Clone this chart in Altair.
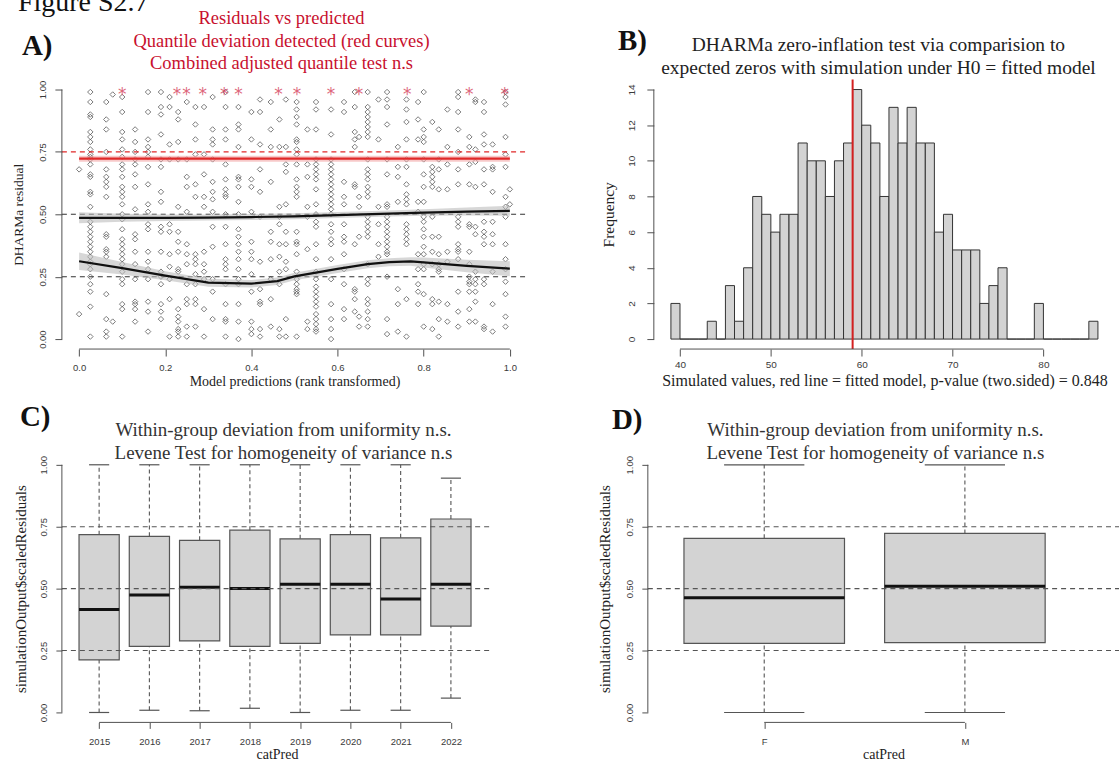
import altair as alt
import pandas as pd

SERIF = "Liberation Serif"
SANS = "Liberation Sans"
AXC = "#505050"
LBL = "#3a3a3a"

# ---------------- Panel A : residuals vs predicted ----------------
a_cols = [0.0, 0.026, 0.063, 0.078, 0.10, 0.13, 0.16, 0.19, 0.21, 0.23, 0.25, 0.27, 0.29, 0.31,
          0.34, 0.37, 0.40, 0.42, 0.445, 0.465, 0.48, 0.505, 0.53, 0.55, 0.585, 0.615, 0.64,
          0.65, 0.67, 0.695, 0.715, 0.74, 0.76, 0.787, 0.80, 0.82, 0.835, 0.855, 0.88, 0.906,
          0.92, 0.94, 0.96, 0.99, 1.0]
a_res = [
    "68 10",
    "99 95 90 89 83 81 79 76 74 73 72 70 66 65 59 58 53 47 45 43 41 39 37 35 33 31 30 28 25 22 19 13 01",
    "95 88 84 75 68 65 63 61 57 42 41 36 35 33 18 08 03 01",
    "98 07",
    "97 91 83 80 76 73 70 68 65 61 59 57 54 50 48 44 40 38 36 34 32 30 27 24 22 14 12 01",
    "84 79 75 72 70 66 61 52 42 40 35 30 24 15 14 12 07",
    "99 91 80 77 75 73 69 62 54 51 46 44 35 31 28 24 15 11 03",
    "99 93 90 82 72 69 59 55 45 43 35 27 25 22 14 11 08",
    "97 93 78 72 46 43 34 29 24 16 01",
    "91 88 79 72 53 43 39 35 28 27 12 09 07 04 03 01",
    "95 72 65 61 51 38 34 30 22 16 14 05 01",
    "93 86 80 74 62 57 34 32 30 26 22 16 14 05",
    "93 74 66 57 53 35 30 27 24 12 01",
    "97 84 80 78 72 63 59 56 51 45 37 24 19 08",
    "99 93 84 80 70 64 60 58 57 50 45 38 32 30 28 22 14 08 07 01",
    "93 86 84 77 65 64 61 55 50 44 41 38 35 32 28 24 22 14 07 00",
    "91 80 64 61 51 39 35 32 26 19 07 04 02",
    "96 91 78 68 59 49 31 20 15 14 04 01",
    "95 84 77 63 43 39 32 24 16 05",
    "88 77 53 49 46 38 33 27 22 04 01",
    "96 77 70 67 54 43 38 31 28 08 01",
    "95 92 89 86 80 79 76 74 70 64 61 59 57 43 39 38 34 27 24 22 20 19 18 01",
    "84 70 65 53 49 36 07 04",
    "95 92 84 72 70 68 66 64 60 54 50 47 45 38 32 27 24 21 19 17 15 13 10 08 06 04 03",
    "92 82 72 70 68 66 64 62 60 58 56 54 52 50 46 43 40 38 32 24 14 08 04 00",
    "95 91 63 57 54 46 41 39 34 28 22 12 08",
    "99 93 83 80 77 62 61 38 20 19 16 11",
    "81 57 53 41 09 05",
    "99 93 91 89 87 85 83 81 72 68 66 64 61 59 57 49 47 45 43 41 30 24 22 16 14 11 08 05",
    "96 80 53 46 38 33",
    "99 96 93 86 72 66 54 53 49 47 45 43 41 39 37 35 34 25 08 02",
    "77 69 65 55 20 14 03",
    "96 92 87 80 72 69 62 58 56 54 46 44 42 40 38 16 01",
    "95 88 80 55 51 34 28 22 19 14",
    "99 84 81 79 72 66 61 55 49 47 44 41 37 34 30 28 18 05",
    "87 69 67 65 63 61 49 41 35 30 16 14 04",
    "84 72 68 60 41 34 30 28 27 15 08 01",
    "92 77 70 60 35 31 14 07",
    "99 97 91 84 75 68 62 49 47 45 38 36 35 32 19 11 05",
    "81 77 70 62 46 45 35 30 25 23 22 19 12 07",
    "96 95 76 71 61 45 42 27 24 22 19 15 07",
    "95 91 82 78 68 62 47 43 41 38 24 22 05 04",
    "78 69 68 59 47 42 38 27 14 03",
    "99 97 94 81 74 69 57 53 49 38 32 28 23 18 09 05",
    "60 54",
]
a_star_x = [0.10, 0.227, 0.249, 0.287, 0.337, 0.37, 0.463, 0.506, 0.585, 0.65, 0.762, 0.906, 0.988]
a_q50_x = [0.0, 0.1, 0.2, 0.3, 0.4, 0.5, 0.6, 0.7, 0.8, 0.9, 1.0]
a_q50 = [0.486, 0.486, 0.486, 0.487, 0.489, 0.492, 0.497, 0.502, 0.507, 0.511, 0.514]
a_q50_se = [0.022, 0.016, 0.013, 0.012, 0.012, 0.012, 0.012, 0.012, 0.013, 0.016, 0.020]
a_q25_x = [0.0, 0.1, 0.2, 0.3, 0.4, 0.46, 0.5, 0.6, 0.67, 0.72, 0.77, 0.8, 0.9, 1.0]
a_q25 = [0.312, 0.284, 0.254, 0.226, 0.222, 0.232, 0.251, 0.281, 0.300, 0.308, 0.311, 0.307, 0.293, 0.282]
a_q25_se = [0.035, 0.025, 0.018, 0.016, 0.015, 0.015, 0.015, 0.016, 0.016, 0.016, 0.017, 0.020, 0.025, 0.030]
a_q75_x = [0.0, 1.0]
a_q75 = [0.723, 0.723]
a_q75_se = [0.012, 0.012]
a_ref = [0.25, 0.50, 0.75]
a_ref_col = ["#333333", "#333333", "#e02828"]
a_title = ["Residuals vs predicted", "Quantile deviation detected (red curves)",
           "Combined adjusted quantile test n.s"]
A_XDOM = [-0.04, 1.04]
A_YDOM = [-0.04, 1.04]
assert len(a_cols) == len(a_res)

# ---------------- Panel B : zero-inflation histogram ----------------
b_bin_start = list(range(39, 86))
b_counts = [2, 0, 0, 0, 1, 0, 3, 1, 4, 8, 7, 6, 7, 7, 11, 10, 10, 8, 10, 11, 14, 12, 11, 8, 13,
            11, 13, 11, 11, 6, 7, 5, 5, 5, 2, 3, 4, 0, 0, 0, 2, 0, 0, 0, 0, 0, 1]
b_observed = 59
b_title = ["DHARMa zero-inflation test via comparision to",
           "expected zeros with simulation under H0 = fitted model"]
B_XDOM = [37.12, 87.88]
B_YDOM = [-0.56, 14.56]
assert len(b_bin_start) == len(b_counts)

# ---------------- Panel C : by year ----------------
c_cats = ["2015", "2016", "2017", "2018", "2019", "2020", "2021", "2022"]
c_lower = [0.000, 0.009, 0.007, 0.017, 0.000, 0.009, 0.009, 0.058]
c_q1 = [0.212, 0.267, 0.289, 0.267, 0.279, 0.313, 0.313, 0.349]
c_med = [0.416, 0.474, 0.506, 0.501, 0.518, 0.518, 0.458, 0.518]
c_q3 = [0.718, 0.711, 0.695, 0.736, 0.701, 0.718, 0.705, 0.781]
c_upper = [1.0, 1.0, 1.0, 1.0, 1.0, 1.0, 1.0, 0.946]

# ---------------- Panel D : by sex ----------------
d_cats = ["F", "M"]
d_lower = [0.0, 0.0]
d_q1 = [0.279, 0.282]
d_med = [0.463, 0.510]
d_q3 = [0.703, 0.723]
d_upper = [1.0, 1.0]

box_title = ["Within-group deviation from uniformity n.s.",
             "Levene Test for homogeneity of variance n.s"]
box_ref = [0.25, 0.50, 0.75]
BOX_YDOM = [-0.04, 1.04]


def y_axis(title, values, lpad, tpad, tsize, tick=7, fmt=None, lsize=9.5):
    kw = dict(title=title, values=values, domain=False, grid=False, ticks=True, tickSize=tick,
              tickColor=AXC, tickWidth=1, labelAngle=270, labelAlign="center",
              labelBaseline="bottom", labelFont=SANS, labelFontSize=lsize, labelColor=LBL,
              labelPadding=lpad, labelOverlap=False, labelFlush=False,
              titleFont=SERIF, titleFontSize=tsize, titleFontWeight="normal",
              titleColor="#222222", titlePadding=tpad)
    if fmt:
        kw["format"] = fmt
    return alt.Axis(**kw)


def x_axis(title, values, lpad, tpad, tsize, tick=7, fmt=None, expr=None, lsize=9.5):
    kw = dict(title=title, values=values, domain=False, grid=False, ticks=True, tickSize=tick,
              tickColor=AXC, tickWidth=1, labelAngle=0, labelFont=SANS, labelFontSize=lsize,
              labelColor=LBL, labelPadding=lpad, labelOverlap=False, labelFlush=False,
              titleFont=SERIF, titleFontSize=tsize, titleFontWeight="normal",
              titleColor="#222222", titlePadding=tpad)
    if fmt:
        kw["format"] = fmt
    if expr:
        kw["labelExpr"] = expr
    return alt.Axis(**kw)


def text_at(txt, x, y, size=29, weight="bold", color="#111111", align="left",
            baseline="middle"):
    return alt.Chart(pd.DataFrame({"k": [0]})).mark_text(
        text=txt, font=SERIF, fontSize=size, fontWeight=weight, color=color,
        align=align, baseline=baseline).encode(x=alt.value(x), y=alt.value(y))


def title_lines(lines, cx, ys, size, color):
    return [text_at(t, cx, y, size=size, weight="normal", color=color, align="center")
            for t, y in zip(lines, ys)]


# ======================= build panel A =======================
xs_a = alt.Scale(domain=A_XDOM, nice=False, zero=False)
ys_a = alt.Scale(domain=A_YDOM, nice=False, zero=False)
ax_a = x_axis("Model predictions (rank transformed)", [0, 0.2, 0.4, 0.6, 0.8, 1.0], 6, 3, 14,
              fmt=".1f")
ay_a = y_axis("DHARMa residual", [0, 0.25, 0.5, 0.75, 1.0], 7, 12, 13.5, fmt=".2f")
XA = lambda f: alt.X(f, scale=xs_a, axis=ax_a)
YA = lambda f: alt.Y(f, scale=ys_a, axis=ay_a)

a_pts = pd.DataFrame([(x, int(v) / 100) for x, s in zip(a_cols, a_res) for v in s.split()],
                     columns=["x", "y"])


def qdf(xv, yv, sev):
    return pd.DataFrame({"x": xv, "y": yv,
                         "lo": [m - s for m, s in zip(yv, sev)],
                         "hi": [m + s for m, s in zip(yv, sev)]})


q25_df = qdf(a_q25_x, a_q25, a_q25_se)
q50_df = qdf(a_q50_x, a_q50, a_q50_se)
q75_df = qdf(a_q75_x, a_q75, a_q75_se)

A_points = alt.Chart(a_pts).mark_point(
    shape="diamond", filled=False, size=30, strokeWidth=1, color="#444444", opacity=0.7
).encode(x=XA("x:Q"), y=YA("y:Q"))
a_ref_df = pd.DataFrame({"y": a_ref, "c": a_ref_col, "x": A_XDOM[0], "x2": A_XDOM[1]})
A_refs = alt.Chart(a_ref_df).mark_rule(strokeDash=[5, 4], strokeWidth=1.1).encode(
    x=XA("x:Q"), x2="x2:Q", y=YA("y:Q"), color=alt.Color("c:N", scale=None))


def band(df, col):
    return alt.Chart(df).mark_area(color=col, opacity=0.6).encode(
        x=XA("x:Q"), y=YA("lo:Q"), y2="hi:Q")


def qline(df, col):
    return alt.Chart(df).mark_line(color=col, strokeWidth=2.2).encode(x=XA("x:Q"), y=YA("y:Q"))


A_stars = alt.Chart(pd.DataFrame({"x": a_star_x, "y": 1.0})).mark_text(
    text="*", font="DejaVu Sans", fontSize=17, color="#d6405a", opacity=0.8, dy=5
).encode(x=XA("x:Q"), y=YA("y:Q"))

A_axx = alt.Chart(pd.DataFrame({"x": [0.0], "x2": [1.0], "y": [A_YDOM[0]]})).mark_rule(
    color=AXC, strokeWidth=1).encode(x=XA("x:Q"), x2="x2:Q", y=YA("y:Q"))
A_axy = alt.Chart(pd.DataFrame({"y": [0.0], "y2": [1.0], "x": [A_XDOM[0]]})).mark_rule(
    color=AXC, strokeWidth=1).encode(y=YA("y:Q"), y2="y2:Q", x=XA("x:Q"))

A = alt.layer(
    A_points, A_refs,
    band(q25_df, "#bdbdbd"), band(q50_df, "#bdbdbd"), band(q75_df, "#f2a5a5"),
    qline(q25_df, "#111111"), qline(q50_df, "#111111"), qline(q75_df, "#e02828"),
    A_stars, A_axx, A_axy,
    text_at("A)", -40, -34),
    text_at("Figure S2.7", -44, -69, size=28, weight="normal", baseline="alphabetic"),
    *title_lines(a_title, 220, [-62, -39, -17], 18.5, "#c8102e"),
).properties(width=466, height=270)

# ======================= build panel B =======================
xs_b = alt.Scale(domain=B_XDOM, nice=False, zero=False)
ys_b = alt.Scale(domain=B_YDOM, nice=False, zero=False)
ax_b = x_axis("Simulated values, red line = fitted model, p-value (two.sided) = 0.848",
              [40, 50, 60, 70, 80], 3, 4, 16, lsize=10)
ay_b = y_axis("Frequency", [0, 2, 4, 6, 8, 10, 12, 14], 10, 10, 15.5, lsize=10)
XB = lambda f: alt.X(f, scale=xs_b, axis=ax_b)
YB = lambda f: alt.Y(f, scale=ys_b, axis=ay_b)

b_df = pd.DataFrame({"x": b_bin_start, "x2": [s + 1 for s in b_bin_start],
                     "y": b_counts, "y0": 0})
B_bars = alt.Chart(b_df).mark_rect(fill="#d3d3d3", stroke="#333333", strokeWidth=1).encode(
    x=XB("x:Q"), x2="x2:Q", y=YB("y:Q"), y2="y0:Q")
B_obs = alt.Chart(pd.DataFrame({"x": [b_observed], "y": [B_YDOM[0]], "y2": [B_YDOM[1]]})).mark_rule(
    color="#d42020", strokeWidth=2).encode(x=XB("x:Q"), y=YB("y:Q"), y2="y2:Q")
B_axx = alt.Chart(pd.DataFrame({"x": [40], "x2": [80], "y": [B_YDOM[0]]})).mark_rule(
    color=AXC, strokeWidth=1).encode(x=XB("x:Q"), x2="x2:Q", y=YB("y:Q"))
B_axy = alt.Chart(pd.DataFrame({"y": [0], "y2": [14], "x": [B_XDOM[0]]})).mark_rule(
    color=AXC, strokeWidth=1).encode(y=YB("y:Q"), y2="y2:Q", x=XB("x:Q"))
B = alt.layer(
    B_bars, B_obs, B_axx, B_axy,
    text_at("B)", -36, -39),
    *title_lines(b_title, 225, [-35, -12], 19.5, "#222222"),
).properties(width=462, height=270)


# ======================= box panels C and D =======================
def box_panel(cats, lower, q1, med, q3, upper, xdom, width, tcx, letter, lx, ly, ytpad):
    xs = alt.Scale(domain=xdom, nice=False, zero=False)
    ys = alt.Scale(domain=BOX_YDOM, nice=False, zero=False)
    pos = list(range(1, len(cats) + 1))
    expr = "[" + ",".join("'%s'" % c for c in cats) + "][datum.value - 1]"
    axx_ = x_axis("catPred", pos, 8, 2, 14, tick=6, expr=expr)
    axy_ = y_axis("simulationOutput$scaledResiduals", [0, 0.25, 0.5, 0.75, 1.0],
                  7, ytpad, 15, tick=6, fmt=".2f")
    X = lambda f: alt.X(f, scale=xs, axis=axx_)
    Y = lambda f: alt.Y(f, scale=ys, axis=axy_)
    df = pd.DataFrame({"p": pos, "lower": lower, "q1": q1, "med": med, "q3": q3, "upper": upper})
    df["l"] = df["p"] - 0.4
    df["r"] = df["p"] + 0.4
    df["cl"] = df["p"] - 0.2
    df["cr"] = df["p"] + 0.2
    base = alt.Chart(df)
    boxes = base.mark_rect(fill="#d3d3d3", stroke="#555555", strokeWidth=1.2).encode(
        x=X("l:Q"), x2="r:Q", y=Y("q1:Q"), y2="q3:Q")
    wu = base.mark_rule(color="#555555", strokeDash=[4, 3], strokeWidth=1.1).encode(
        x=X("p:Q"), y=Y("q3:Q"), y2="upper:Q")
    wl = base.mark_rule(color="#555555", strokeDash=[4, 3], strokeWidth=1.1).encode(
        x=X("p:Q"), y=Y("lower:Q"), y2="q1:Q")
    cu = base.mark_rule(color="#555555", strokeWidth=1.2).encode(
        x=X("cl:Q"), x2="cr:Q", y=Y("upper:Q"))
    cl = base.mark_rule(color="#555555", strokeWidth=1.2).encode(
        x=X("cl:Q"), x2="cr:Q", y=Y("lower:Q"))
    md = base.mark_rule(color="#111111", strokeWidth=3).encode(
        x=X("l:Q"), x2="r:Q", y=Y("med:Q"))
    refs = alt.Chart(pd.DataFrame({"y": box_ref, "x": xdom[0], "x2": xdom[1]})).mark_rule(
        color="#555555", strokeDash=[5, 4], strokeWidth=1.1).encode(
        x=X("x:Q"), x2="x2:Q", y=Y("y:Q"))
    axl = alt.Chart(pd.DataFrame({"x": [pos[0]], "x2": [pos[-1]], "y": [BOX_YDOM[0]]})).mark_rule(
        color=AXC, strokeWidth=1).encode(x=X("x:Q"), x2="x2:Q", y=Y("y:Q"))
    ayl = alt.Chart(pd.DataFrame({"y": [0.0], "y2": [1.0], "x": [xdom[0]]})).mark_rule(
        color=AXC, strokeWidth=1).encode(y=Y("y:Q"), y2="y2:Q", x=X("x:Q"))
    return alt.layer(
        boxes, wu, wl, cu, cl, md, refs, axl, ayl,
        text_at(letter, lx, ly),
        *title_lines(box_title, tcx, [-25, -2], 19, "#333333"),
    ).properties(width=width, height=268)


C = box_panel(c_cats, c_lower, c_q1, c_med, c_q3, c_upper, [0.259, 8.82], 431, 222,
              "C)", -42, -38, 10)
D = box_panel(d_cats, d_lower, d_q1, d_med, d_q3, d_upper, [0.42, 2.768], 472, 228,
              "D)", -36, -35, 12)

top = alt.hconcat(A, B, spacing=74)
bottom = alt.hconcat(C, D, spacing=105)
chart = alt.vconcat(top, bottom, spacing=14).properties(
    padding={"left": 12, "top": -12, "right": 0, "bottom": 0}
).configure(background="white").configure_view(stroke=None)

chart.save("out.html", embed_options={"renderer": "svg", "actions": False})
